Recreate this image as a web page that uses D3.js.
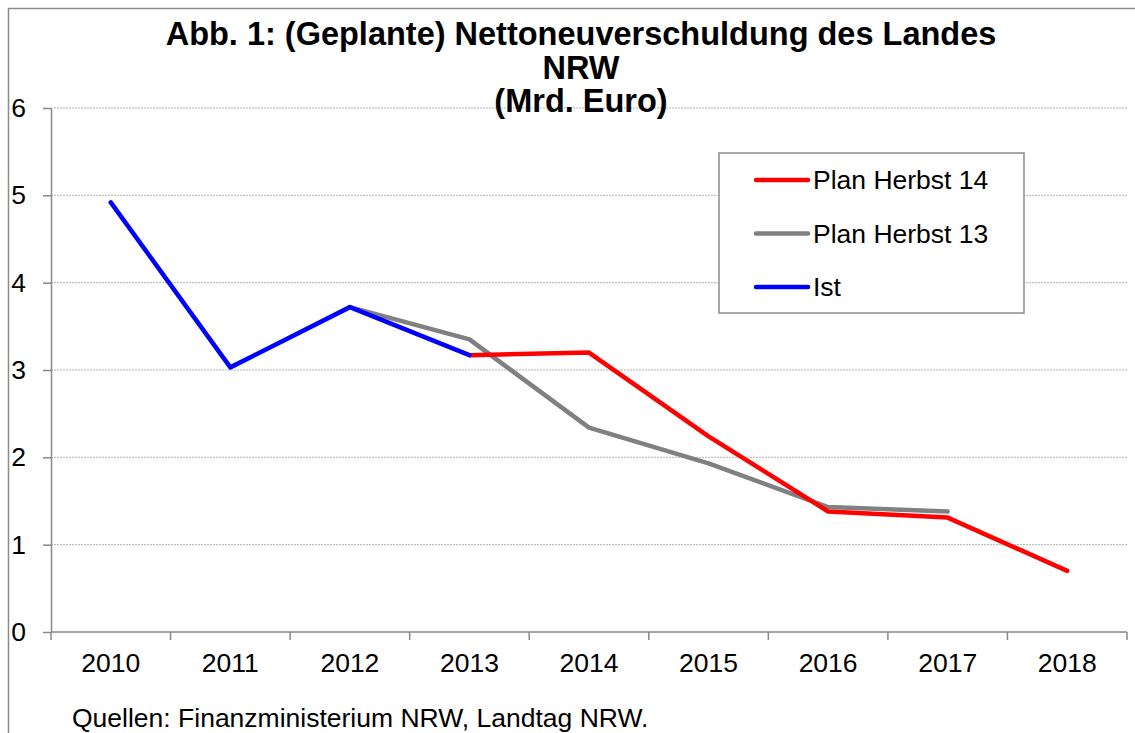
<!DOCTYPE html>
<html>
<head>
<meta charset="utf-8">
<script src="https://cdn.jsdelivr.net/npm/d3@7"></script>
<style>
  body { margin: 0; background: #fff; }
  svg { display: block; font-family: "Liberation Sans", Arial, sans-serif; }
</style>
</head>
<body>
<svg id="chart" width="1135" height="733"></svg>
<script>
// Data
const years = ["2010", "2011", "2012", "2013", "2014", "2015", "2016", "2017", "2018"];
const planHerbst14 = [null, null, null, 3.17, 3.20, 2.24, 1.38, 1.31, 0.70];
const planHerbst13 = [null, null, 3.72, 3.35, 2.34, 1.93, 1.43, 1.38, null];
const ist = [4.92, 3.03, 3.72, 3.17, null, null, null, null, null];
const yTicks = [0, 1, 2, 3, 4, 5, 6];

const series = [
    { name: "Plan Herbst 14", values: planHerbst14, color: "#ff0000" },
    { name: "Plan Herbst 13", values: planHerbst13, color: "#808080" },
    { name: "Ist", values: ist, color: "#0000ff" }
];

const svg = d3.select("#chart");

// Outer chart frame (right and bottom edges fall outside the picture)
svg.append("rect")
    .attr("x", 8.5).attr("y", 8.5)
    .attr("width", 1200).attr("height", 800)
    .attr("fill", "none")
    .attr("stroke", "#8c8c8c")
    .attr("stroke-width", 1.5);

// Plot area
const plot = { left: 51, right: 1127, top: 108, bottom: 632 };

const x = d3.scaleBand()
    .domain(years)
    .range([plot.left, plot.right]);

const y = d3.scaleLinear()
    .domain([0, 6])
    .range([plot.bottom, plot.top]);

// Gridlines
svg.append("g")
    .selectAll("line")
    .data(yTicks.filter(d => d > 0))
    .join("line")
    .attr("x1", plot.left).attr("x2", plot.right)
    .attr("y1", d => y(d)).attr("y2", d => y(d))
    .attr("stroke", "#b4b4b4")
    .attr("stroke-width", 1)
    .attr("stroke-dasharray", "2,1");

// Y axis
const yAxisG = svg.append("g")
    .attr("transform", `translate(${plot.left},0)`)
    .call(d3.axisLeft(y).tickValues(yTicks).tickFormat(d3.format("d"))
        .tickSize(8).tickPadding(17).tickSizeOuter(0));
yAxisG.select(".domain").attr("stroke", "#888").attr("stroke-width", 1.5);
yAxisG.selectAll(".tick line").attr("stroke", "#888").attr("stroke-width", 1.5);
yAxisG.selectAll(".tick text")
    .attr("font-size", "26.5px")
    .attr("font-family", "Liberation Sans, Arial, sans-serif")
    .attr("fill", "#000");

// X axis: ticks between categories
const xAxisG = svg.append("g")
    .attr("transform", `translate(0,${plot.bottom})`);
xAxisG.append("line")
    .attr("x1", plot.left).attr("x2", plot.right)
    .attr("stroke", "#888").attr("stroke-width", 1.5);
const boundaries = years.map(d => x(d)).concat([x(years[years.length - 1]) + x.bandwidth()]);
xAxisG.selectAll(".xtick")
    .data(boundaries)
    .join("line")
    .attr("class", "xtick")
    .attr("x1", d => d).attr("x2", d => d)
    .attr("y1", 0).attr("y2", 8)
    .attr("stroke", "#888").attr("stroke-width", 1.5);
xAxisG.selectAll(".xlabel")
    .data(years)
    .join("text")
    .attr("class", "xlabel")
    .attr("x", d => x(d) + x.bandwidth() / 2)
    .attr("y", 40)
    .attr("text-anchor", "middle")
    .attr("font-size", "26.5px")
    .attr("fill", "#000")
    .text(d => d);

// Lines
const line = d3.line()
    .defined(d => d.v != null)
    .x(d => x(d.year) + x.bandwidth() / 2)
    .y(d => y(d.v));

// draw order: gray first, then red, then blue on top
[series[1], series[0], series[2]].forEach(s => {
    svg.append("path")
        .datum(years.map((year, i) => ({ year, v: s.values[i] })))
        .attr("d", line)
        .attr("fill", "none")
        .attr("stroke", s.color)
        .attr("stroke-width", 4.5)
        .attr("stroke-linejoin", "round")
        .attr("stroke-linecap", "round");
});

// Title
const title = svg.append("text")
    .attr("text-anchor", "middle")
    .attr("font-size", "32.5px")
    .attr("font-weight", "bold")
    .attr("fill", "#000");
["Abb. 1: (Geplante) Nettoneuverschuldung des Landes", "NRW", "(Mrd. Euro)"].forEach((t, i) => {
    title.append("tspan")
        .attr("x", 581)
        .attr("y", 45 + i * 33.5)
        .text(t);
});

// Legend
const legend = svg.append("g");
legend.append("rect")
    .attr("x", 719).attr("y", 153)
    .attr("width", 305).attr("height", 160)
    .attr("fill", "#fff")
    .attr("stroke", "#8c8c8c")
    .attr("stroke-width", 1.5);
series.forEach((s, i) => {
    const ly = 180 + i * 53.5;
    legend.append("line")
        .attr("x1", 756).attr("x2", 808)
        .attr("y1", ly).attr("y2", ly)
        .attr("stroke", s.color)
        .attr("stroke-width", 4.5)
        .attr("stroke-linecap", "round");
    legend.append("text")
        .attr("x", 813)
        .attr("y", ly + 9)
        .attr("font-size", "26.5px")
        .attr("fill", "#000")
        .text(s.name);
});

// Source note
svg.append("text")
    .attr("x", 72)
    .attr("y", 727)
    .attr("font-size", "26.5px")
    .attr("fill", "#000")
    .text("Quellen: Finanzministerium NRW, Landtag NRW.");
</script>
</body>
</html>
